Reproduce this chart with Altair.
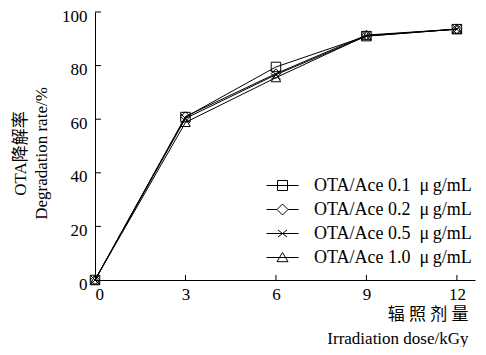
import altair as alt
import pandas as pd

doses = [0, 3, 6, 9, 12]
series = ["OTA/Ace 0.1\u00a0\u00a0\u03bc\u2009g/mL", "OTA/Ace 0.2\u00a0\u00a0\u03bc\u2009g/mL",
          "OTA/Ace 0.5\u00a0\u00a0\u03bc\u2009g/mL", "OTA/Ace 1.0\u00a0\u00a0\u03bc\u2009g/mL"]
s01 = [0, 60.8, 79.5, 91.0, 93.6]
s02 = [0, 61.0, 77.0, 91.4, 93.6]
s05 = [0, 60.3, 76.6, 91.0, 93.6]
s10 = [0, 58.8, 75.5, 91.2, 93.6]
xticks = [3, 6, 9, 12]
yticks = [20, 40, 60, 80, 100]

rows = []
for name, vals in zip(series, [s01, s02, s05, s10]):
    for d, v in zip(doses, vals):
        rows.append({"dose": d, "rate": v, "series": name})
df = pd.DataFrame(rows)

W, H = 380, 268
FONT = "Liberation Serif, Noto Sans CJK SC"

xpath = "M-1,-1L1,1M-1,1L1,-1"
point_shapes = ["square", "diamond", xpath, "triangle-up"]
# legend symbols: size 400 -> 1 unit = 10px; line 32px long, marker ~10px
legend_shapes = [
    "M-1.6,0H1.6M-0.5,-0.5H0.5V0.5H-0.5Z",
    "M-1.6,0H-0.55M0.55,0H1.6M0,-0.55L0.55,0L0,0.55L-0.55,0Z",
    "M-1.6,0H1.6M-0.45,-0.35L0.45,0.35M-0.45,0.35L0.45,-0.35",
    "M-1.6,0H1.6M0,-0.5L0.55,0.42H-0.55Z",
]

xs = alt.Scale(domain=[0, 12.6], nice=False, zero=False)
ys = alt.Scale(domain=[0, 100], nice=False)

xaxis = alt.Axis(values=[0, 3, 6, 9, 12], ticks=False, grid=False, labelPadding=6,
                 labelFont="Liberation Serif", labelFontSize=17, labelColor="black", labelAngle=0,
                 title=["辐\u2005照\u2005剂\u2005量", "Irradiation dose/kGy"], titleAnchor="end",
                 titleAlign="right", titleFont=FONT,
                 titleX=373, titleY=26, titleBaseline="top", titleLineHeight=24, titleFontSize=17)
yaxis = alt.Axis(values=[0, 20, 40, 60, 80, 100], ticks=False, grid=False, labelPadding=8,
                 labelOffset=4, labelFont="Liberation Serif", labelFontSize=17, labelColor="black",
                 title=["OTA降解率", "Degradation rate/%"], titleAngle=270, titleAlign="center",
                 titleFont=FONT, titleBaseline="top", titleX=-83, titleY=141,
                 titleLineHeight=21, titleFontSize=17)

base = alt.Chart(df)
lines = base.mark_line(color="black", strokeWidth=1).encode(
    x=alt.X("dose:Q", scale=xs, axis=xaxis),
    y=alt.Y("rate:Q", scale=ys, axis=yaxis),
    detail="series:N",
)
points = base.mark_point(filled=False, color="black", strokeWidth=1, size=90, opacity=1).encode(
    x="dose:Q", y="rate:Q",
    shape=alt.Shape("series:N", scale=alt.Scale(domain=series, range=point_shapes), legend=None),
)
legend_layer = base.transform_filter("datum.dose < -100").mark_point(
    filled=False, color="black", strokeWidth=1, size=400, opacity=1).encode(
    x="dose:Q", y="rate:Q",
    shape=alt.Shape("series:N", scale=alt.Scale(domain=series, range=legend_shapes),
                    legend=alt.Legend(title=None, orient="none", legendX=177, legendY=163,
                                      labelFont=FONT, labelFontSize=18, labelColor="black",
                                      labelOffset=21, rowPadding=4, padding=0,
                                      symbolSize=400, symbolStrokeWidth=1,
                                      symbolStrokeColor="black")),
)

tdf = pd.DataFrame({"v": xticks})
ydf = pd.DataFrame({"v": yticks})
xt = alt.Chart(tdf).mark_rule(color="black", strokeWidth=1).encode(
    x=alt.X("v:Q", scale=xs), y=alt.value(H), y2=alt.value(H - 5))
yt = alt.Chart(ydf).mark_rule(color="black", strokeWidth=1).encode(
    y=alt.Y("v:Q", scale=ys), x=alt.value(0), x2=alt.value(6))

chart = alt.layer(lines, points, legend_layer, xt, yt).resolve_scale(shape="independent").properties(
    width=W, height=H,
    autosize=alt.AutoSizeParams(type="none"),
    padding={"left": 87, "top": 4, "right": 3, "bottom": 67},
).configure_view(stroke=None).configure_axis(
    domainColor="black", domainWidth=1, titleColor="black", titleFontWeight="normal",
    labelFont="Liberation Serif",
)

chart.save("out.html", embed_options={"renderer": "svg", "actions": False})
